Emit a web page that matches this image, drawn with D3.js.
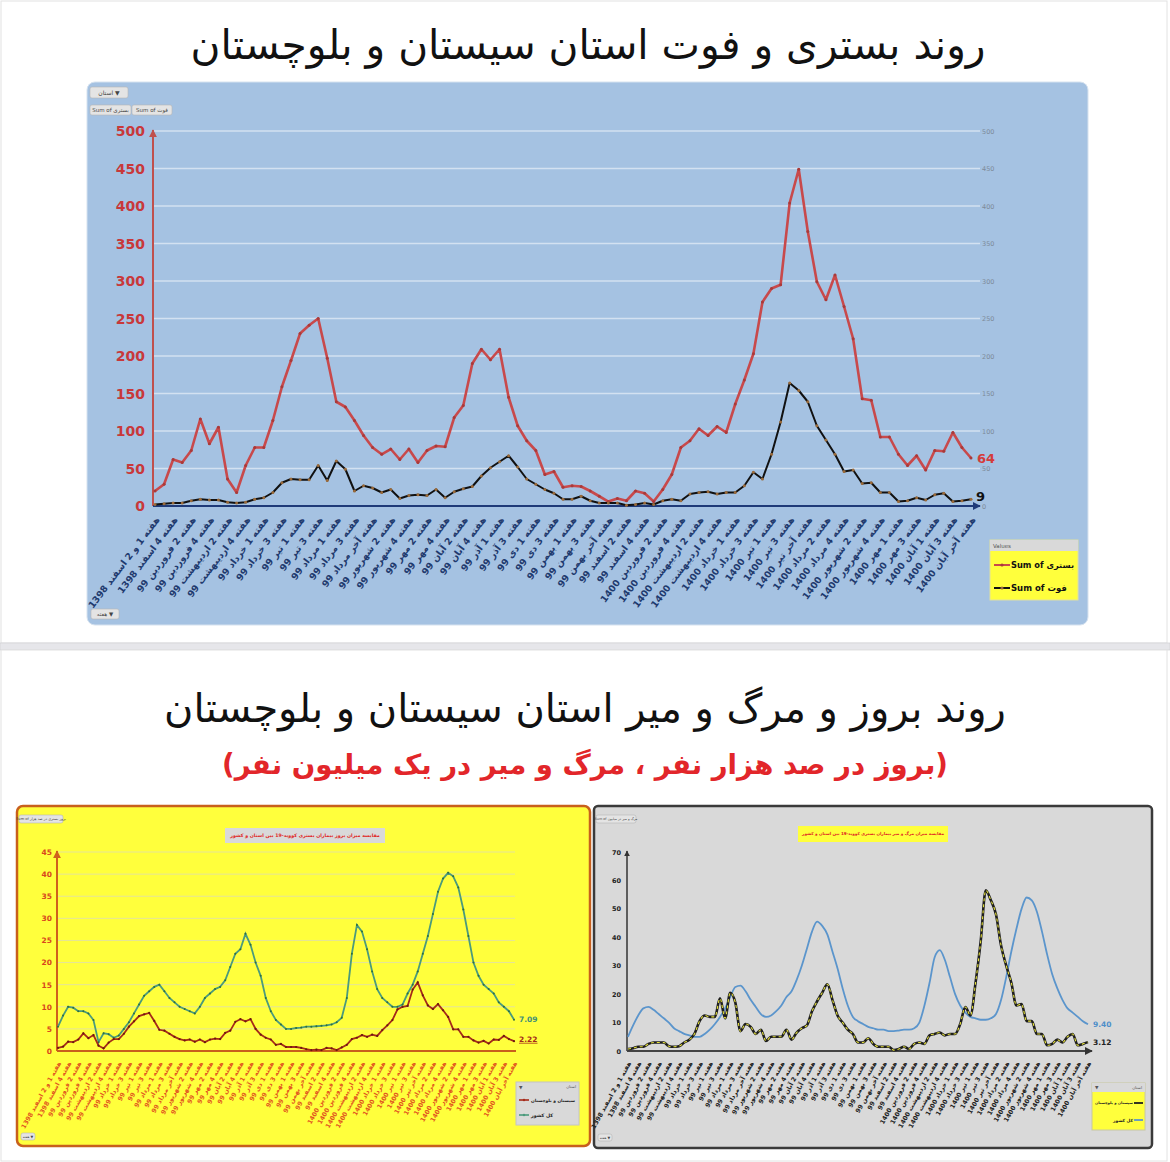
<!DOCTYPE html>
<html>
<head>
<meta charset="utf-8">
<script src="https://cdn.jsdelivr.net/npm/d3@7"></script>
<style>
  body { margin: 0; background: #fff; }
  svg { display: block; }
</style>
</head>
<body>
<script>
// week tick labels (one label every second week)
const weeks = [
  "هفته 1 و 2 اسفند 1398", "هفته 4 اسفند 1398", "هفته 2 فروردین 99", "هفته 4 فروردین 99",
  "هفته 2 اردیبهشت 99", "هفته 4 اردیبهشت 99", "هفته 1 خرداد 99", "هفته 3 خرداد 99",
  "هفته 1 تیر 99", "هفته 3 تیر 99", "هفته 1 مرداد 99", "هفته 3 مرداد 99",
  "هفته آخر مرداد 99", "هفته 2 شهریور 99", "هفته 4 شهریور 99", "هفته 2 مهر 99",
  "هفته 4 مهر 99", "هفته 2 آبان 99", "هفته 4 آبان 99", "هفته 1 آذر 99",
  "هفته 3 آذر 99", "هفته 1 دی 99", "هفته 3 دی 99", "هفته 1 بهمن 99",
  "هفته 3 بهمن 99", "هفته آخر بهمن 99", "هفته 2 اسفند 99", "هفته 4 اسفند 99",
  "هفته 2 فروردین 1400", "هفته 4 فروردین 1400", "هفته 2 اردیبهشت 1400", "هفته 4 اردیبهشت 1400",
  "هفته 1 خرداد 1400", "هفته 3 خرداد 1400", "هفته 1 تیر 1400", "هفته 3 تیر 1400",
  "هفته آخر تیر 1400", "هفته 2 مرداد 1400", "هفته 4 مرداد 1400", "هفته 2 شهریور 1400",
  "هفته 4 شهریور 1400", "هفته 1 مهر 1400", "هفته 3 مهر 1400", "هفته 1 آبان 1400",
  "هفته 3 آبان 1400", "هفته آخر آبان 1400"
];

// top chart: weekly hospitalised (بستری) and deaths (فوت)
const hospitalised = [20,29,62,58,74,116,83,105,36,18, 54,78,78,114,159,194,230,241,250,197,
  139,132,114,94,78,69,76,62,76,58, 74,80,79,118,134,190,209,195,209,145,
  107,87,74,42,46,25,27,26,20,13, 6,10,7,20,17,6,22,42,78,87,
  103,94,106,98,136,168,203,272,290,295, 404,449,366,299,275,308,266,223,143,141,
  92,92,69,54,67,48,74,73,98,78, 64];
const deaths = [2,3,4,4,7,9,8,8,5,4, 5,9,11,18,31,36,35,35,54,34,
  60,49,20,27,24,18,22,10,14,15, 14,22,11,19,23,26,40,51,59,67,
  52,36,29,22,17,9,9,13,7,4, 4,4,1,2,4,2,7,9,7,16,
  18,19,16,18,18,27,45,36,69,112, 164,154,139,107,88,69,46,48,30,31,
  18,18,6,7,11,8,15,17,6,7, 9];

// bottom-left: incidence per 100k
const incProvince = [0.7,1.0,2.1,2.0,2.6,4.0,2.9,3.6,1.2,0.6, 1.9,2.7,2.7,3.9,5.5,6.7,7.9,8.3,8.6,6.8,
  4.8,4.6,3.9,3.2,2.7,2.4,2.6,2.1,2.6,2.0, 2.6,2.8,2.7,4.1,4.6,6.6,7.2,6.7,7.2,5.0,
  3.7,3.0,2.6,1.4,1.6,0.9,0.9,0.9,0.7,0.4, 0.2,0.3,0.2,0.7,0.6,0.2,0.8,1.4,2.7,3.0,
  3.6,3.2,3.7,3.4,4.7,5.8,7.0,9.4,10.0,10.2, 13.9,15.5,12.6,10.3,9.5,10.6,9.2,7.7,4.9,4.9,
  3.2,3.2,2.4,1.9,2.3,1.7,2.6,2.5,3.4,2.7, 2.22];
const incCountry = [5.5,8,10,9.8,9,9,8.5,7,2,4, 3.8,3,3.5,5,6.5,8.5,10.5,12.5,13.5,14.5,
  15,13.5,12,11,10,9.5,9,8.5,10,12, 13,14,14.5,16,19,22,23,26.5,24,20,
  17,12,9,7,6,5,5,5.2,5.3,5.5, 5.5,5.6,5.7,5.8,6,6.5,7.5,12,22,28.5,
  27,23,18,14,12,11,10,10,10.5,13, 15,18,22,26,31,36,39,40.3,39.5,37,
  32,26,20,17,15,14,13,11,10,9, 7.09];

// bottom-right: mortality per million
const mortCountry = [5,9,12.5,15,15.5,14.5,13,11.5,10,8, 7,6,5.5,5,5,6,7.5,9.5,12,15,
  19,22.5,23,21,18,15.5,13,12,12.5,14, 16,19,21,25,30,36,42,45.5,44,41,
  35,29,22,16,12,10.5,9.5,8.5,8,7.5, 7.5,7,7,7.2,7.5,7.5,8,10,16,24,
  33,35.5,32,26,20,16,13.5,12,11.5,11, 11,11.5,13,18,26,35,43,50,54,53,
  49,42,34,27,22,18,15,13.5,12,10.5, 9.4];
const mortProvince = [0.7,1,1.5,1.5,2.5,3,3,3,1.7,1.5, 1.7,3,4,6,10.5,12.5,12,12,18.5,11.5,
  20.5,17,7,9.5,8.5,6,7.5,3.5,5,5, 5,7.5,4,6.5,8,9,14,17.5,20.5,23.5,
  18,12.5,10,7.5,6,3,3,4.5,2.5,1.5, 1.5,1.5,0.3,0.7,1.5,0.7,2.5,3,2.5,5.5,
  6,6.5,5.5,6,6,9.5,15.5,12.5,24,38.5, 56.5,53,48,37,30,24,16,16.5,10.5,10.5,
  6,6,2,2.5,4,3,5,6,2,2.5, 3.12];

const FONT = "'DejaVu Sans', sans-serif";
const W = 1170, H = 1162;
const idx = d3.range(hospitalised.length);
const evenIdx = idx.filter(i => i % 2 === 0);

const svg = d3.select("body").append("svg")
  .attr("width", W).attr("height", H)
  .attr("font-family", FONT);

const defs = svg.append("defs");
function arrowMarker(id, color) {
  defs.append("marker").attr("id", id)
    .attr("viewBox", "0 0 10 10").attr("refX", 9).attr("refY", 5)
    .attr("markerWidth", 4).attr("markerHeight", 4).attr("orient", "auto")
    .append("path").attr("d", "M0,0L10,5L0,10z").attr("fill", color);
}
arrowMarker("arRed", "#c0504d");
arrowMarker("arNavy", "#1f3a78");
arrowMarker("arOrange", "#d0601c");
arrowMarker("arDark", "#333");

// scale font-size so text spans a given width
function fitText(sel, width) {
  const len = sel.node().getComputedTextLength();
  const fs = parseFloat(sel.attr("font-size"));
  sel.attr("font-size", fs * width / len);
}

function button(g, x, y, w, h, label, fs) {
  g.append("rect").attr("x", x).attr("y", y).attr("width", w).attr("height", h)
    .attr("rx", 2).attr("fill", "#e4e4e4").attr("stroke", "#b5b5b5").attr("stroke-width", 0.6);
  g.append("text").attr("x", x + w / 2).attr("y", y + h / 2).attr("dy", "0.35em")
    .attr("text-anchor", "middle").attr("font-size", fs).attr("fill", "#444").text(label);
}

// page frames
svg.append("rect").attr("x", 1).attr("y", 1).attr("width", W - 4).attr("height", 642)
  .attr("fill", "#fff").attr("stroke", "#e2e2e2");
svg.append("rect").attr("x", 0).attr("y", 643).attr("width", W).attr("height", 7)
  .attr("fill", "#e6e6ea").attr("stroke", "#d0d0d4").attr("stroke-width", 0.7);
svg.append("rect").attr("x", 1).attr("y", 650).attr("width", W - 4).attr("height", H - 651)
  .attr("fill", "#fff").attr("stroke", "#e2e2e2");

// titles
const t1 = svg.append("text").attr("x", 588).attr("y", 59).attr("text-anchor", "middle")
  .attr("direction", "rtl").attr("font-size", 40).attr("fill", "#111")
  .text("روند بستری و فوت استان سیستان و بلوچستان");
fitText(t1, 795);
const t2 = svg.append("text").attr("x", 585).attr("y", 722).attr("text-anchor", "middle")
  .attr("direction", "rtl").attr("font-size", 40).attr("fill", "#111")
  .text("روند بروز و مرگ و میر استان سیستان و بلوچستان");
fitText(t2, 842);
const t3 = svg.append("text").attr("x", 585).attr("y", 774).attr("text-anchor", "middle")
  .attr("direction", "rtl").attr("font-size", 32).attr("font-weight", "bold").attr("fill", "#e2262a")
  .text("(بروز در صد هزار نفر ، مرگ و میر در یک میلیون نفر)");
fitText(t3, 726);

// ---------------- top chart ----------------
const gTop = svg.append("g");
gTop.append("rect").attr("x", 87).attr("y", 82).attr("width", 1001).attr("height", 543)
  .attr("rx", 8).attr("fill", "#a5c2e2").attr("stroke", "#d6e2ef");

const x1 = d3.scalePoint().domain(idx).range([155, 971]);
const y1 = d3.scaleLinear().domain([0, 500]).range([506, 131]);

gTop.append("g").selectAll("line").data(y1.ticks(10).filter(d => d > 0)).join("line")
  .attr("x1", 153).attr("x2", 980).attr("y1", d => y1(d)).attr("y2", d => y1(d))
  .attr("stroke", "#d3e1f1").attr("stroke-width", 1.3);

const yLeft = gTop.append("g").attr("transform", "translate(145,0)")
  .call(d3.axisLeft(y1).ticks(10).tickSize(0).tickPadding(0));
yLeft.select(".domain").remove();
yLeft.selectAll("text").attr("font-size", 14).attr("font-weight", "bold")
  .attr("fill", "#c8383a").attr("font-family", FONT).attr("dy", "0.35em");

const yRight = gTop.append("g").attr("transform", "translate(982,0)")
  .call(d3.axisRight(y1).ticks(10).tickSize(0).tickPadding(0));
yRight.select(".domain").remove();
yRight.selectAll("text").attr("font-size", 6.5).attr("fill", "#7d8a99").attr("font-family", FONT);

gTop.append("line").attr("x1", 153).attr("x2", 153).attr("y1", 506).attr("y2", 130)
  .attr("stroke", "#c0504d").attr("stroke-width", 2).attr("marker-end", "url(#arRed)");

const xTop = gTop.append("g").attr("transform", "translate(0,506)")
  .call(d3.axisBottom(x1).tickValues(evenIdx).tickSize(0).tickFormat(i => weeks[i / 2]));
xTop.select(".domain").remove();
xTop.selectAll("text")
  .attr("font-family", FONT).attr("font-size", 9.3).attr("font-weight", "bold").attr("fill", "#1f3a6e")
  .attr("direction", "rtl").attr("text-anchor", "start")
  .attr("x", 0).attr("y", 0).attr("dy", "0.35em")
  .attr("transform", "translate(2,12) rotate(-53)");
gTop.append("line").attr("x1", 153).attr("x2", 980).attr("y1", 506).attr("y2", 506)
  .attr("stroke", "#1f3a78").attr("stroke-width", 2).attr("marker-end", "url(#arNavy)");

const line1 = (arr) => d3.line().x((d, i) => x1(i)).y(d => y1(d))(arr);
gTop.append("path").attr("d", line1(hospitalised)).attr("fill", "none")
  .attr("stroke", "#c8494b").attr("stroke-width", 2.6).attr("stroke-linejoin", "round");
gTop.append("g").selectAll("circle").data(hospitalised).join("circle")
  .attr("cx", (d, i) => x1(i)).attr("cy", d => y1(d)).attr("r", 1.5).attr("fill", "#a83a3a");
gTop.append("path").attr("d", line1(deaths)).attr("fill", "none")
  .attr("stroke", "#111").attr("stroke-width", 2).attr("stroke-linejoin", "round");
gTop.append("g").selectAll("circle").data(deaths).join("circle")
  .attr("cx", (d, i) => x1(i)).attr("cy", d => y1(d)).attr("r", 1.5).attr("fill", "#9a6a3a");

const lastI = idx.length - 1;
gTop.append("text").attr("x", x1(lastI) + 6).attr("y", y1(hospitalised[lastI])).attr("dy", "0.35em")
  .attr("font-size", 13).attr("font-weight", "bold").attr("fill", "#d43b3b").text(hospitalised[lastI]);
gTop.append("text").attr("x", x1(lastI) + 5).attr("y", y1(deaths[lastI]) - 3).attr("dy", "0.35em")
  .attr("font-size", 13).attr("font-weight", "bold").attr("fill", "#111").text(deaths[lastI]);

button(gTop, 90, 87, 38, 11, "استان ▼", 6);
button(gTop, 90, 105, 41, 10, "Sum of بستری", 5.5);
button(gTop, 132, 105, 40, 10, "Sum of فوت", 5.5);
button(gTop, 91, 609, 28, 10, "هفته ▼", 5.5);

// legend
const lg = gTop.append("g");
lg.append("rect").attr("x", 990).attr("y", 540).attr("width", 88).attr("height", 60)
  .attr("fill", "#ffff3c").attr("stroke", "#e0e0a0");
lg.append("rect").attr("x", 990).attr("y", 540).attr("width", 88).attr("height", 11)
  .attr("fill", "#d9d9d9");
lg.append("text").attr("x", 993).attr("y", 546).attr("dy", "0.35em").attr("font-size", 5.5)
  .attr("fill", "#555").text("Values");
[["Sum of بستری", "#c8494b", "#a83a3a", 565, 63], ["Sum of فوت", "#111", "#9a6a3a", 588, 56]].forEach(([lab, c, m, yy, w]) => {
  lg.append("line").attr("x1", 994).attr("x2", 1010).attr("y1", yy).attr("y2", yy)
    .attr("stroke", c).attr("stroke-width", 2);
  lg.append("circle").attr("cx", 1002).attr("cy", yy).attr("r", 1.6).attr("fill", m);
  const lt = lg.append("text").attr("x", 1011).attr("y", yy).attr("dy", "0.35em").attr("direction", "ltr")
    .attr("font-size", 10).attr("font-weight", "bold").attr("fill", "#111").text(lab);
  fitText(lt, w);
});

// ---------------- bottom-left (yellow) chart ----------------
const gY = svg.append("g");
gY.append("rect").attr("x", 17).attr("y", 806).attr("width", 573).attr("height", 340)
  .attr("rx", 6).attr("fill", "#ffff3c").attr("stroke", "#c8601c").attr("stroke-width", 2.5);

const x2 = d3.scalePoint().domain(idx).range([58, 514]);
const y2 = d3.scaleLinear().domain([0, 45]).range([1051, 852]);

gY.append("g").selectAll("line").data(y2.ticks(9).filter(d => d > 0)).join("line")
  .attr("x1", 57).attr("x2", 515).attr("y1", d => y2(d)).attr("y2", d => y2(d))
  .attr("stroke", "#e4e49a").attr("stroke-width", 1);

const yAxY = gY.append("g").attr("transform", "translate(52,0)")
  .call(d3.axisLeft(y2).ticks(9).tickSize(0).tickPadding(0));
yAxY.select(".domain").remove();
yAxY.selectAll("text").attr("font-family", FONT).attr("font-size", 7.5).attr("font-weight", "bold")
  .attr("fill", "#d8461c");
gY.append("line").attr("x1", 57).attr("x2", 57).attr("y1", 1051).attr("y2", 851)
  .attr("stroke", "#d0601c").attr("stroke-width", 2).attr("marker-end", "url(#arOrange)");

const xAxY = gY.append("g").attr("transform", "translate(0,1051)")
  .call(d3.axisBottom(x2).tickValues(evenIdx).tickSize(0).tickFormat(i => weeks[i / 2]));
xAxY.select(".domain").remove();
xAxY.selectAll("text")
  .attr("font-family", FONT).attr("font-size", 6.3).attr("font-weight", "bold").attr("fill", "#e2561f")
  .attr("direction", "rtl").attr("text-anchor", "start")
  .attr("x", 0).attr("y", 0).attr("dy", "0.35em")
  .attr("transform", "translate(1,11) rotate(-61)");
gY.append("line").attr("x1", 57).attr("x2", 516).attr("y1", 1051).attr("y2", 1051)
  .attr("stroke", "#c8601c").attr("stroke-width", 2);

const line2 = (arr) => d3.line().x((d, i) => x2(i)).y(d => y2(d))(arr);
gY.append("path").attr("d", line2(incCountry)).attr("fill", "none")
  .attr("stroke", "#4b9a7c").attr("stroke-width", 1.8);
gY.append("g").selectAll("circle").data(incCountry).join("circle")
  .attr("cx", (d, i) => x2(i)).attr("cy", d => y2(d)).attr("r", 1).attr("fill", "#2f6e3e");
gY.append("path").attr("d", line2(incProvince)).attr("fill", "none")
  .attr("stroke", "#a52a1a").attr("stroke-width", 1.8);
gY.append("g").selectAll("circle").data(incProvince).join("circle")
  .attr("cx", (d, i) => x2(i)).attr("cy", d => y2(d)).attr("r", 1.1).attr("fill", "#6b1a10");

gY.append("text").attr("x", x2(lastI) + 5).attr("y", y2(incCountry[lastI])).attr("dy", "0.35em")
  .attr("font-size", 7.5).attr("font-weight", "bold").attr("fill", "#3f8f78").text(incCountry[lastI]);
gY.append("text").attr("x", x2(lastI) + 5).attr("y", y2(incProvince[lastI]) - 2).attr("dy", "0.35em")
  .attr("font-size", 7.5).attr("font-weight", "bold").attr("fill", "#a52a1a")
  .attr("text-decoration", "underline").text(incProvince[lastI]);

gY.append("rect").attr("x", 225).attr("y", 828).attr("width", 160).attr("height", 15).attr("fill", "#d9d9d9");
const ty = gY.append("text").attr("x", 305).attr("y", 835.5).attr("dy", "0.35em").attr("text-anchor", "middle")
  .attr("direction", "rtl").attr("font-size", 8).attr("font-weight", "bold").attr("fill", "#e02424")
  .text("مقایسه میزان بروز بیماران بستری کووید-19 بین استان و کشور");
fitText(ty, 150);

button(gY, 19, 815, 44, 8, "Sum of بروز بستری در صد هزار", 3.6);
button(gY, 21, 1133, 14, 7, "هفته ▼", 3.5);

const lgY = gY.append("g");
lgY.append("rect").attr("x", 516).attr("y", 1082).attr("width", 63).attr("height", 43)
  .attr("fill", "#d9d9d9").attr("stroke", "#c4c4c4");
lgY.append("text").attr("x", 576).attr("y", 1087).attr("dy", "0.35em").attr("text-anchor", "end")
  .attr("font-size", 4).attr("fill", "#555").text("استان");
lgY.append("text").attr("x", 519).attr("y", 1087).attr("dy", "0.35em").attr("font-size", 4.5)
  .attr("fill", "#555").text("▼");
[["سیستان و بلوچستان", "#a52a1a", 1100, 44], ["کل کشور", "#4b9a7c", 1115, 22]].forEach(([lab, c, yy, w]) => {
  lgY.append("line").attr("x1", 519).attr("x2", 529).attr("y1", yy).attr("y2", yy)
    .attr("stroke", c).attr("stroke-width", 1.6);
  lgY.append("circle").attr("cx", 524).attr("cy", yy).attr("r", 1.2).attr("fill", c);
  const lt = lgY.append("text").attr("x", 531).attr("y", yy).attr("dy", "0.35em")
    .attr("font-size", 6).attr("font-weight", "bold").attr("fill", "#222").text(lab);
  fitText(lt, w);
});

// ---------------- bottom-right (gray) chart ----------------
const gG = svg.append("g");
gG.append("rect").attr("x", 594).attr("y", 806).attr("width", 558).attr("height", 342)
  .attr("rx", 4).attr("fill", "#d9d9d9").attr("stroke", "#3a3a3a").attr("stroke-width", 2.5);

const x3 = d3.scalePoint().domain(idx).range([628, 1088]);
const y3 = d3.scaleLinear().domain([0, 70]).range([1051, 852]);

const yAxG = gG.append("g").attr("transform", "translate(621,0)")
  .call(d3.axisLeft(y3).ticks(7).tickSize(0).tickPadding(0));
yAxG.select(".domain").remove();
yAxG.selectAll("text").attr("font-family", FONT).attr("font-size", 6.5).attr("font-weight", "bold")
  .attr("fill", "#222");
gG.append("line").attr("x1", 627).attr("x2", 627).attr("y1", 1051).attr("y2", 851)
  .attr("stroke", "#333").attr("stroke-width", 1.5).attr("marker-end", "url(#arDark)");

const xAxG = gG.append("g").attr("transform", "translate(0,1051)")
  .call(d3.axisBottom(x3).tickValues(evenIdx).tickSize(0).tickFormat(i => weeks[i / 2]));
xAxG.select(".domain").remove();
xAxG.selectAll("text")
  .attr("font-family", FONT).attr("font-size", 6.3).attr("font-weight", "bold").attr("fill", "#222")
  .attr("direction", "rtl").attr("text-anchor", "start")
  .attr("x", 0).attr("y", 0).attr("dy", "0.35em")
  .attr("transform", "translate(1,11) rotate(-61)");
gG.append("line").attr("x1", 627).attr("x2", 1092).attr("y1", 1051).attr("y2", 1051)
  .attr("stroke", "#444").attr("stroke-width", 2).attr("marker-end", "url(#arDark)");

const line3 = (arr) => d3.line().curve(d3.curveMonotoneX).x((d, i) => x3(i)).y(d => y3(d))(arr);
gG.append("path").attr("d", line3(mortCountry)).attr("fill", "none")
  .attr("stroke", "#5b95cc").attr("stroke-width", 1.8);
gG.append("path").attr("d", line3(mortProvince)).attr("fill", "none")
  .attr("stroke", "#1e1e1e").attr("stroke-width", 2.6);
gG.append("path").attr("d", line3(mortProvince)).attr("fill", "none")
  .attr("stroke", "#e6e23a").attr("stroke-width", 1.1).attr("stroke-dasharray", "3,3");

gG.append("text").attr("x", x3(lastI) + 5).attr("y", y3(mortCountry[lastI])).attr("dy", "0.35em")
  .attr("font-size", 7.5).attr("font-weight", "bold").attr("fill", "#4f8fc9").text(mortCountry[lastI].toFixed(2));
gG.append("text").attr("x", x3(lastI) + 5).attr("y", y3(mortProvince[lastI])).attr("dy", "0.35em")
  .attr("font-size", 7.5).attr("font-weight", "bold").attr("fill", "#222").text(mortProvince[lastI]);

gG.append("rect").attr("x", 798).attr("y", 826).attr("width", 150).attr("height", 16).attr("fill", "#ffff3c");
const tg = gG.append("text").attr("x", 873).attr("y", 834).attr("dy", "0.35em").attr("text-anchor", "middle")
  .attr("direction", "rtl").attr("font-size", 8).attr("font-weight", "bold").attr("fill", "#e02424")
  .text("مقایسه میزان مرگ و میر بیماران بستری کووید-19 بین استان و کشور");
fitText(tg, 142);

button(gG, 596, 815, 40, 8, "Sum of مرگ و میر در میلیون", 3.4);
button(gG, 598, 1134, 14, 7, "هفته ▼", 3.5);

const lgG = gG.append("g");
lgG.append("rect").attr("x", 1092).attr("y", 1083).attr("width", 53).attr("height", 47)
  .attr("fill", "#ffff3c").attr("stroke", "#c8c8a0");
lgG.append("rect").attr("x", 1092).attr("y", 1083).attr("width", 53).attr("height", 9).attr("fill", "#d9d9d9");
lgG.append("text").attr("x", 1142).attr("y", 1087.5).attr("dy", "0.35em").attr("text-anchor", "end")
  .attr("font-size", 4).attr("fill", "#555").text("استان");
lgG.append("text").attr("x", 1095).attr("y", 1087.5).attr("dy", "0.35em").attr("font-size", 4.5)
  .attr("fill", "#555").text("▼");
[["سیستان و بلوچستان", "#1e1e1e", 1103, 38], ["کل کشور", "#5b95cc", 1120, 20]].forEach(([lab, c, yy, w]) => {
  lgG.append("line").attr("x1", 1134).attr("x2", 1143).attr("y1", yy).attr("y2", yy)
    .attr("stroke", c).attr("stroke-width", 1.8);
  const lt = lgG.append("text").attr("x", 1094).attr("y", yy).attr("dy", "0.35em")
    .attr("font-size", 6).attr("font-weight", "bold").attr("fill", "#222").text(lab);
  fitText(lt, w);
  lt.attr("x", 1133 - w);
});
</script>
</body>
</html>
